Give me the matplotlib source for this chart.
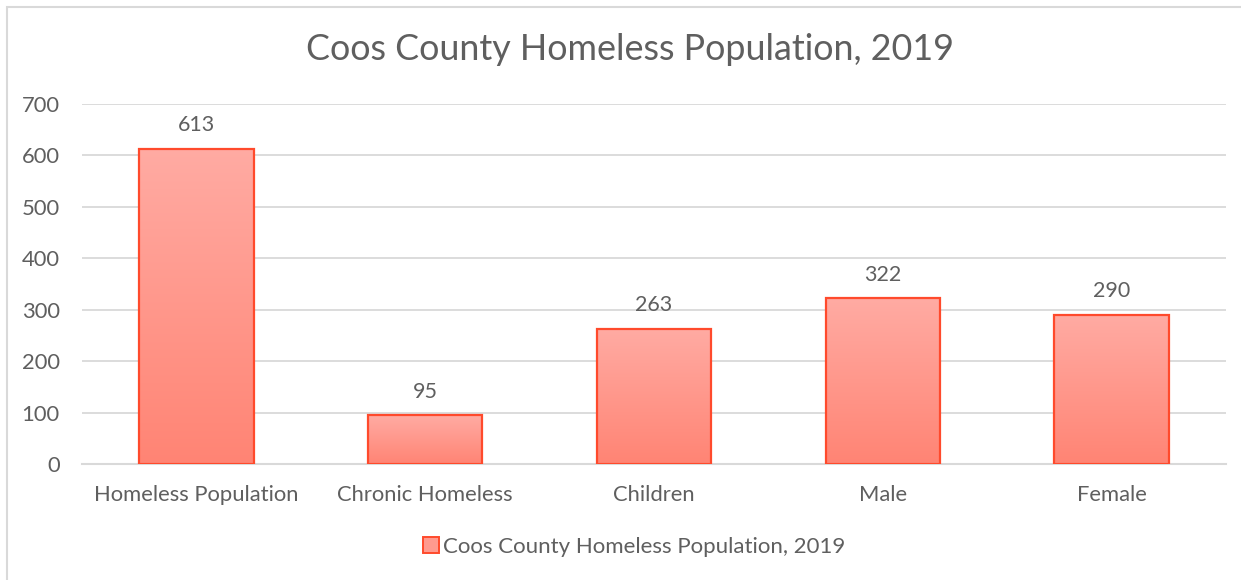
import numpy as np
import matplotlib
matplotlib.use('Agg')
import matplotlib.pyplot as plt
from matplotlib.colors import LinearSegmentedColormap
from matplotlib.patches import Patch, Rectangle

# chart data
categories = ['Homeless Population', 'Chronic Homeless', 'Children', 'Male', 'Female']
counts = [613, 95, 263, 322, 290]
series_name = 'Coos County Homeless Population, 2019'
yticks = [0, 100, 200, 300, 400, 500, 600, 700]

plt.rcParams['font.family'] = ['Lato', 'DejaVu Sans']
txt = '#5f5f5f'
grid_col = '#d9d9d9'
edge_col = '#ff4a2c'
grad = LinearSegmentedColormap.from_list('bar_grad', ['#ff8474', '#ffaba3'])

fig = plt.figure(figsize=(12.41, 5.80), dpi=100)
ax = fig.add_axes([0.0661, 0.2, 0.9219, 0.6207])

x = np.arange(len(categories))
bars = ax.bar(x, counts, width=0.5, facecolor='none', edgecolor=edge_col,
              linewidth=1.6, zorder=3)

# vertical gradient inside each bar
g = np.linspace(0, 1, 256).reshape(-1, 1)
for b in bars:
    x0, y0 = b.get_x(), b.get_y()
    w, h = b.get_width(), b.get_height()
    im = ax.imshow(g, cmap=grad, origin='lower', aspect='auto',
                   extent=[x0, x0 + w, y0, y0 + h], zorder=2)
    im.set_clip_path(b)

for xi, v in zip(x, counts):
    ax.annotate(str(v), (xi, v), xytext=(0, 17), textcoords='offset points',
                ha='center', va='center', fontsize=15.5, color=txt)

ax.set_xlim(-0.5, len(categories) - 0.5)
ax.set_ylim(0, 700)
ax.set_yticks(yticks)
ax.set_xticks(x)
ax.set_xticklabels(categories)
ax.tick_params(axis='both', length=0, labelsize=15.8, labelcolor=txt)
ax.tick_params(axis='x', pad=15)
ax.tick_params(axis='y', pad=16)
ax.grid(axis='y', color=grid_col, linewidth=1.3, zorder=0)
ax.set_axisbelow(True)
for s in ['top', 'right', 'left']:
    ax.spines[s].set_visible(False)
ax.spines['bottom'].set_color(grid_col)
ax.spines['bottom'].set_linewidth(1.5)

fig.text(0.508, 0.914, series_name, ha='center', va='center', fontsize=25.8, color=txt)

handle = Patch(facecolor='#ff9a8f', edgecolor=edge_col, linewidth=1.4)
fig.legend([handle], [series_name], loc='center', bbox_to_anchor=(0.511, 0.057),
           frameon=False, fontsize=16, labelcolor=txt, handlelength=0.7,
           handleheight=0.7, handletextpad=0.2)

# thin frame around the chart area
fig.add_artist(Rectangle((7 / 1241, -0.05), 1.1, 1 - 7 / 580 + 0.05,
                         transform=fig.transFigure, fill=False,
                         edgecolor='#d9d9d9', linewidth=1.5))

fig.savefig('out.png', dpi=100, facecolor='white')
